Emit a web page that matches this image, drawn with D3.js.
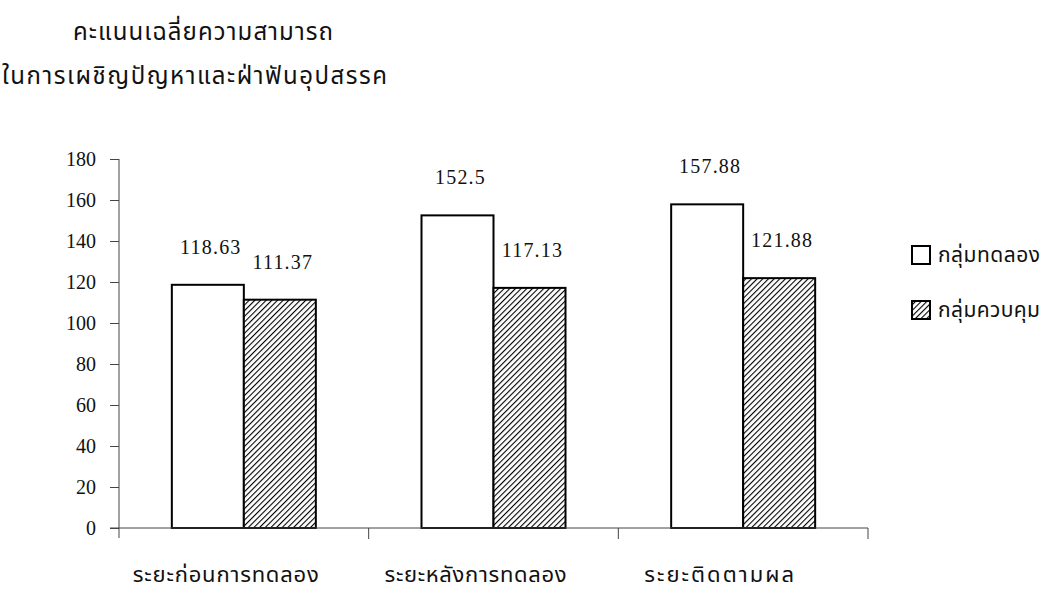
<!DOCTYPE html>
<html>
<head>
<meta charset="utf-8">
<script src="https://cdn.jsdelivr.net/npm/d3@7"></script>
<style>
  html, body { margin: 0; padding: 0; background: #fff; }
  svg { display: block; }
  .thai { font-family: "Noto Sans Thai", "Noto Sans", "DejaVu Sans", sans-serif; fill: #111; }
  .num { font-family: "Liberation Serif", "DejaVu Serif", serif; fill: #111; }
</style>
</head>
<body>
<svg id="chart" width="1044" height="603"></svg>
<script>
// ---- data ----
const titleLines = ["คะแนนเฉลี่ยความสามารถ", "ในการเผชิญปัญหาและฝ่าฟันอุปสรรค"];
const categories = ["ระยะก่อนการทดลอง", "ระยะหลังการทดลอง", "ระยะติดตามผล"];
const seriesNames = ["กลุ่มทดลอง", "กลุ่มควบคุม"];
const experimentValues = [118.63, 152.5, 157.88];
const controlValues = [111.37, 117.13, 121.88];
const valueLabels = [["118.63", "152.5", "157.88"], ["111.37", "117.13", "121.88"]];
const yTicks = [0, 20, 40, 60, 80, 100, 120, 140, 160, 180];

const seriesValues = [experimentValues, controlValues];

const svg = d3.select("#chart");

// hatch pattern
const defs = svg.append("defs");
const pat = defs.append("pattern")
  .attr("id", "hatch")
  .attr("patternUnits", "userSpaceOnUse")
  .attr("width", 4).attr("height", 4)
  .attr("patternTransform", "rotate(45)");
pat.append("rect").attr("width", 4).attr("height", 4).attr("fill", "#fff");
pat.append("line").attr("x1", 0).attr("y1", 0).attr("x2", 0).attr("y2", 4)
  .attr("stroke", "#000").attr("stroke-width", 2.2);

// scales
const x = d3.scaleBand().domain(categories).range([119, 868]).paddingInner(0).paddingOuter(0);
const y = d3.scaleLinear().domain([0, 180]).range([528, 159]);
const barW = 72;
const xs = d3.scaleBand().domain(seriesNames).range([0, barW * 2]);
const fills = ["#fff", "url(#hatch)"];

// title
svg.append("text").attr("class", "thai").attr("x", 73).attr("y", 40)
  .attr("font-size", 24).attr("textLength", 260).attr("lengthAdjust", "spacing").text(titleLines[0]);
svg.append("text").attr("class", "thai").attr("x", 2).attr("y", 84)
  .attr("font-size", 24).attr("textLength", 385).attr("lengthAdjust", "spacing").text(titleLines[1]);

// bars
seriesNames.forEach((s, si) => {
  const g = svg.append("g");
  g.selectAll("rect").data(categories).join("rect")
    .attr("x", c => x(c) + x.bandwidth() / 2 - barW + xs(s))
    .attr("y", (c, i) => y(seriesValues[si][i]))
    .attr("width", xs.bandwidth())
    .attr("height", (c, i) => y(0) - y(seriesValues[si][i]))
    .attr("fill", fills[si])
    .attr("stroke", "#000").attr("stroke-width", 2);
  g.selectAll("text").data(categories).join("text")
    .attr("class", "num")
    .attr("x", c => x(c) + x.bandwidth() / 2 - barW + xs(s) + xs.bandwidth() / 2 + 3)
    .attr("y", (c, i) => y(seriesValues[si][i]) - 31)
    .attr("text-anchor", "middle")
    .attr("font-size", 20)
    .attr("letter-spacing", 1.2)
    .text((c, i) => valueLabels[si][i]);
});

// y axis
const yAxis = d3.axisLeft(y).tickValues(yTicks).tickSize(9).tickPadding(14);
const gy = svg.append("g").attr("transform", "translate(119,0)").call(yAxis);
gy.select(".domain").attr("stroke", "#444").attr("d", "M0,159V538");
gy.selectAll(".tick line").attr("stroke", "#444");
gy.selectAll(".tick text").attr("class", "num").attr("font-size", 20).attr("fill", "#111");

// x axis
const gx = svg.append("g").attr("transform", "translate(0,528)");
gx.append("line").attr("x1", 110).attr("x2", 868).attr("y1", 0).attr("y2", 0).attr("stroke", "#444");
const boundaries = categories.map(c => x(c) + x.bandwidth());
gx.selectAll("line.tk").data(boundaries).join("line").attr("class", "tk")
  .attr("x1", d => d).attr("x2", d => d).attr("y1", 0).attr("y2", 11).attr("stroke", "#444");
gx.selectAll("text").data(categories).join("text")
  .attr("class", "thai")
  .attr("x", (c, i) => x(c) + x.bandwidth() / 2 - (i === 2 ? 24 : 18))
  .attr("y", 54)
  .attr("text-anchor", "middle")
  .attr("font-size", 22)
  .attr("textLength", (c, i) => [186, 182, 150][i])
  .attr("lengthAdjust", "spacing")
  .text(c => c);

// legend
const lg = svg.append("g");
seriesNames.forEach((s, i) => {
  const yy = 246 + i * 55;
  lg.append("rect").attr("x", 912).attr("y", yy).attr("width", 18).attr("height", 18)
    .attr("fill", fills[i]).attr("stroke", "#000").attr("stroke-width", 2);
  lg.append("text").attr("class", "thai").attr("x", 938).attr("y", yy + 16)
    .attr("font-size", 21).attr("textLength", 102).attr("lengthAdjust", "spacing").text(s);
});
</script>
</body>
</html>
